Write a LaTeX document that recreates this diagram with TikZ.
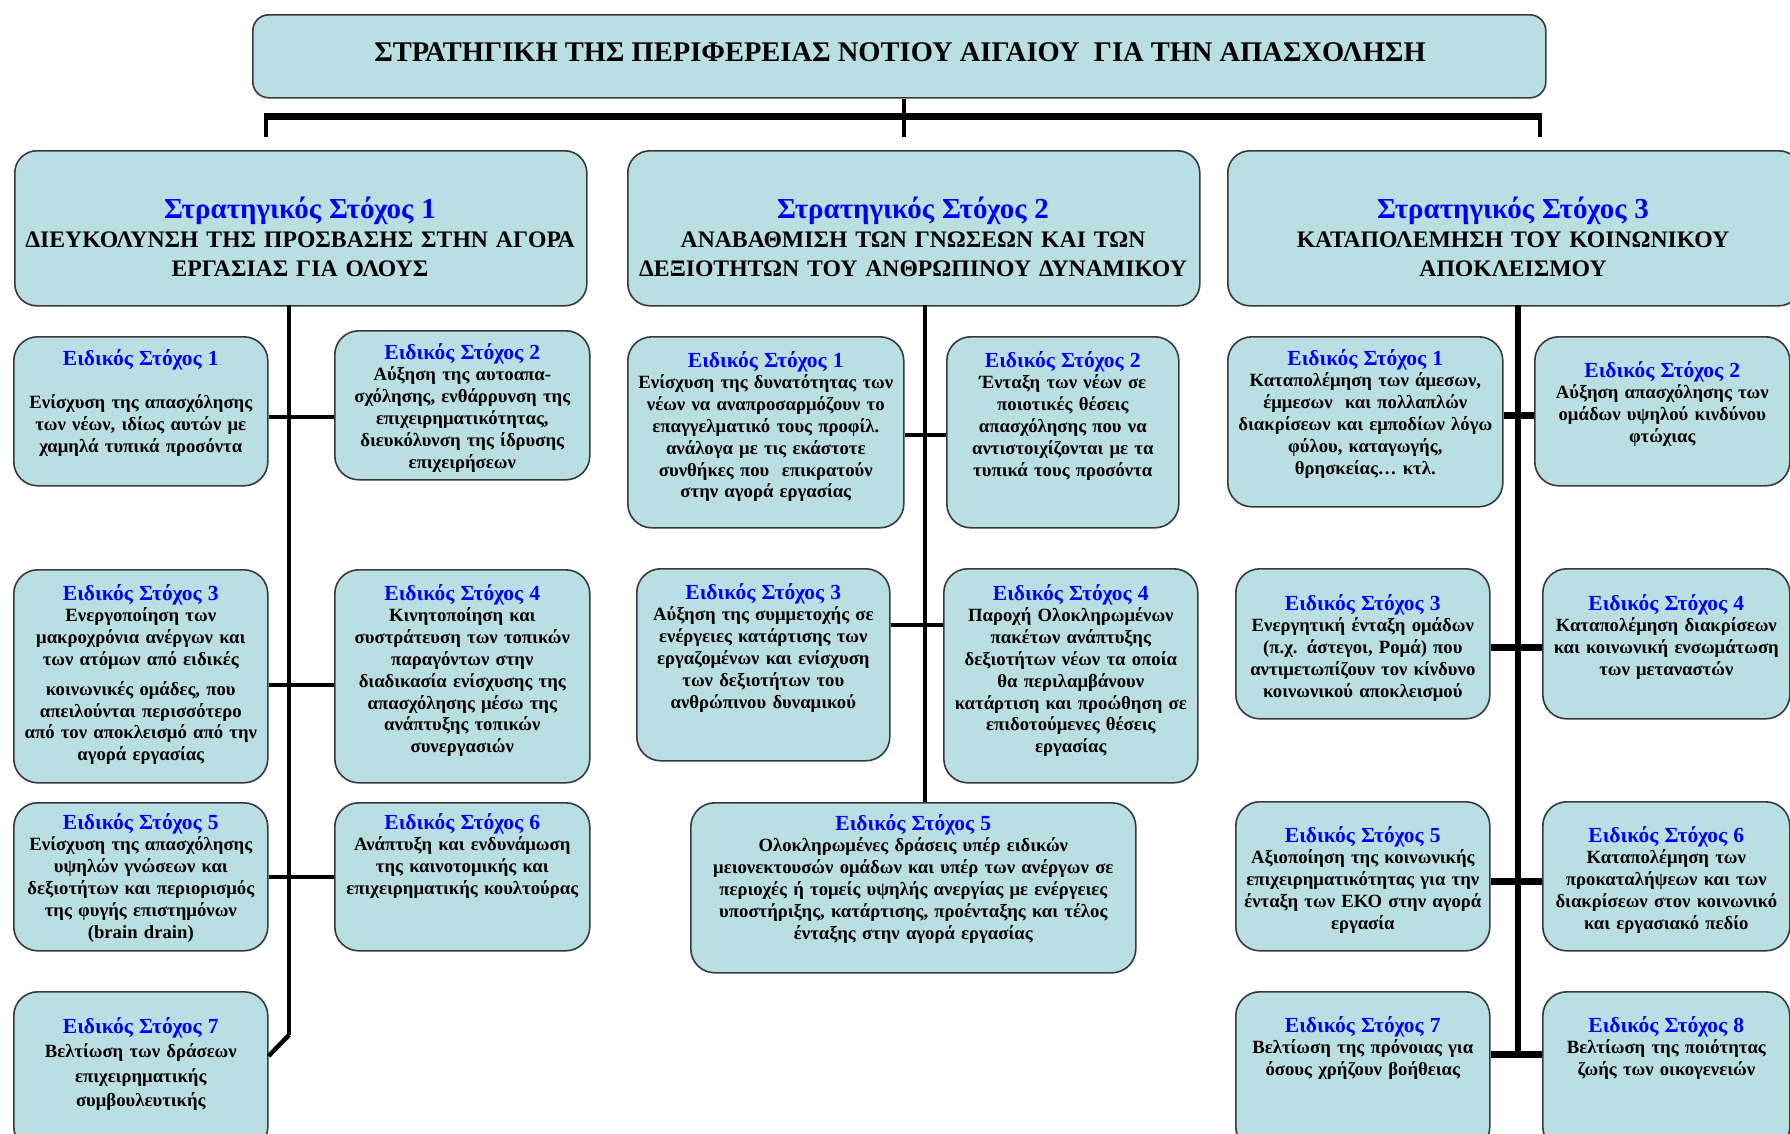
\documentclass[tikz,border=0pt]{standalone}
\usepackage{fontspec}
\setmainfont{Liberation Serif}
\definecolor{boxfill}{RGB}{185,223,227}
\definecolor{boxline}{RGB}{55,58,60}
\definecolor{headblue}{RGB}{0,0,255}
\newcommand\gbox[6][]{\node[gbx,#1,minimum width={(#5-#3)*1pt},minimum height={(#6-#4)*1pt},anchor=north west] (#2) at (#3,#4) {};}
\newcommand\eh[1]{{\color{headblue}\fontsize{21.5}{21.8}\selectfont Ειδικός Στόχος #1}}
\newcommand\sh[1]{{\color{headblue}\fontsize{29}{29}\selectfont Στρατηγικός Στόχος #1}}
\begin{document}
\begin{tikzpicture}[x=1pt,y=-1pt,
  gbx/.style={draw=boxline,line width=1.6pt,fill=boxfill,rounded corners=24pt,inner sep=0pt},
  etxt/.style={anchor=north,align=center,inner sep=0pt,text width=300pt,font=\bfseries\fontsize{18.7}{21.8}\selectfont},
  stxt/.style={anchor=north,align=center,inner sep=0pt,text width=640pt,font=\bfseries\fontsize{23.7}{29}\selectfont},
  link/.style={line width=4.5pt,draw=black},
  stub/.style={line width=7pt,draw=black}]
\useasboundingbox (0,0) rectangle (1790,1133);
% top
\gbox[rounded corners=16pt]{top}{252}{14}{1545}{97}
\node[anchor=center,inner sep=0pt,font=\bfseries\fontsize{28.5}{32}\selectfont] (toptxt) at (900,52) {ΣΤΡΑΤΗΓΙΚΗ ΤΗΣ ΠΕΡΙΦΕΡΕΙΑΣ ΝΟΤΙΟΥ ΑΙΓΑΙΟΥ\ \ ΓΙΑ ΤΗΝ ΑΠΑΣΧΟΛΗΣΗ};
% strategic
\gbox[rounded corners=22pt]{s1}{14}{150}{586}{305}
\gbox[rounded corners=22pt]{s2}{627}{150}{1199}{305}
\gbox[rounded corners=22pt]{s3}{1227}{150}{1800}{305}
\node[stxt] (s1t) at (300,197) {\sh{1}\\ ΔΙΕΥΚΟΛΥΝΣΗ ΤΗΣ ΠΡΟΣΒΑΣΗΣ ΣΤΗΝ ΑΓΟΡΑ\\ ΕΡΓΑΣΙΑΣ ΓΙΑ ΟΛΟΥΣ};
\node[stxt] (s2t) at (913,197) {\sh{2}\\ ΑΝΑΒΑΘΜΙΣΗ ΤΩΝ ΓΝΩΣΕΩΝ ΚΑΙ ΤΩΝ\\ ΔΕΞΙΟΤΗΤΩΝ ΤΟΥ ΑΝΘΡΩΠΙΝΟΥ ΔΥΝΑΜΙΚΟΥ};
\node[stxt] (s3t) at (1513,197) {\sh{3}\\ ΚΑΤΑΠΟΛΕΜΗΣΗ ΤΟΥ ΚΟΙΝΩΝΙΚΟΥ\\ ΑΠΟΚΛΕΙΣΜΟΥ};
% top connectors
\coordinate (bj) at (904,116);
\coordinate (bl) at (266,116);
\coordinate (br) at (1540,116);
\coordinate (dl) at (266,137);
\coordinate (dm) at (904,137);
\coordinate (dr) at (1540,137);
\draw[line width=4pt] (top.south -| bj) -- (bj);
\draw[line width=7pt] ([xshift=-2pt]bl) -- ([xshift=2pt]br);
\draw[line width=4pt] (bl) -- (dl);
\draw[line width=4pt] (bj) -- (dm);
\draw[line width=4pt] (br) -- (dr);
% column 1 boxes
\gbox{c1a}{13}{336}{267}{485}
\gbox{c1b}{334}{330}{589}{479}
\gbox{c1c}{13}{569}{267}{782}
\gbox{c1d}{334}{569}{589}{782}
\gbox{c1e}{13}{802}{267}{950}
\gbox{c1f}{334}{802}{589}{950}
\gbox{c1g}{13}{991}{267}{1150}
% column 2 boxes
\gbox{c2a}{627}{336}{903}{527}
\gbox{c2b}{946}{336}{1178}{527}
\gbox{c2c}{636}{568}{889}{760}
\gbox{c2d}{943}{568}{1197}{782}
\gbox{c2e}{690}{802}{1135}{972}
% column 3 boxes
\gbox{c3a}{1227}{336}{1502}{506}
\gbox{c3b}{1534}{336}{1789}{485}
\gbox{c3c}{1235}{568}{1489}{718}
\gbox{c3d}{1542}{568}{1789}{718}
\gbox{c3e}{1235}{801}{1489}{950}
\gbox{c3f}{1542}{801}{1789}{950}
\gbox{c3g}{1235}{991}{1489}{1150}
\gbox{c3h}{1542}{991}{1789}{1150}
% column 1 texts
\node[etxt] (c1at) at (c1a.north |- 0,349) {\eh{1}\\[22pt] Ενίσχυση της απασχόλησης\\ των νέων, ιδίως αυτών με\\ χαμηλά τυπικά προσόντα};
\node[etxt] (c1bt) at (c1b.north |- 0,343) {\eh{2}\\ Αύξηση της αυτοαπα-\\ σχόλησης, ενθάρρυνση της\\ επιχειρηματικότητας,\\ διευκόλυνση της ίδρυσης\\ επιχειρήσεων};
\node[etxt] (c1ct) at (c1c.north |- 0,584) {\eh{3}\\ Ενεργοποίηση των\\ μακροχρόνια ανέργων και\\ των ατόμων από ειδικές\\[8pt] κοινωνικές ομάδες, που\\ απειλούνται περισσότερο\\ από τον αποκλεισμό από την\\ αγορά εργασίας};
\node[etxt] (c1dt) at (c1d.north |- 0,584) {\eh{4}\\ Κινητοποίηση και\\ συστράτευση των τοπικών\\ παραγόντων στην\\ διαδικασία ενίσχυσης της\\ απασχόλησης μέσω της\\ ανάπτυξης τοπικών\\ συνεργασιών};
\node[etxt] (c1et) at (c1e.north |- 0,813) {\eh{5}\\ Ενίσχυση της απασχόλησης\\ υψηλών γνώσεων και\\ δεξιοτήτων και περιορισμός\\ της φυγής επιστημόνων\\ (brain drain)};
\node[etxt] (c1ft) at (c1f.north |- 0,813) {\eh{6}\\ Ανάπτυξη και ενδυνάμωση\\ της καινοτομικής και\\ επιχειρηματικής κουλτούρας};
\node[etxt,font=\bfseries\fontsize{18.7}{24.5}\selectfont] (c1gt) at (c1g.north |- 0,1017) {\eh{7}\\ Βελτίωση των δράσεων\\ επιχειρηματικής\\ συμβουλευτικής};
% column 2 texts
\node[etxt] (c2at) at (c2a.north |- 0,351) {\eh{1}\\ Ενίσχυση της δυνατότητας των\\ νέων να αναπροσαρμόζουν το\\ επαγγελματικό τους προφίλ.\\ ανάλογα με τις εκάστοτε\\ συνθήκες που\ \ επικρατούν\\ στην αγορά εργασίας};
\node[etxt] (c2bt) at (c2b.north |- 0,351) {\eh{2}\\ Ένταξη των νέων σε\\ ποιοτικές θέσεις\\ απασχόλησης που να\\ αντιστοιχίζονται με τα\\ τυπικά τους προσόντα};
\node[etxt] (c2ct) at (c2c.north |- 0,583) {\eh{3}\\ Αύξηση της συμμετοχής σε\\ ενέργειες κατάρτισης των\\ εργαζομένων και ενίσχυση\\ των δεξιοτήτων του\\ ανθρώπινου δυναμικού};
\node[etxt] (c2dt) at (c2d.north |- 0,584) {\eh{4}\\ Παροχή Ολοκληρωμένων\\ πακέτων ανάπτυξης\\ δεξιοτήτων νέων τα οποία\\ θα περιλαμβάνουν\\ κατάρτιση και προώθηση σε\\ επιδοτούμενες θέσεις\\ εργασίας};
\node[etxt,text width=460pt] (c2et) at (c2e.north |- 0,814) {\eh{5}\\ Ολοκληρωμένες δράσεις υπέρ ειδικών\\ μειονεκτουσών ομάδων και υπέρ των ανέργων σε\\ περιοχές ή τομείς υψηλής ανεργίας με ενέργειες\\ υποστήριξης, κατάρτισης, προένταξης και τέλος\\ ένταξης στην αγορά εργασίας};
% column 3 texts
\node[etxt] (c3at) at (c3a.north |- 0,349) {\eh{1}\\ Καταπολέμηση των άμεσων,\\ έμμεσων\ \ και πολλαπλών\\ διακρίσεων και εμποδίων λόγω\\ φύλου, καταγωγής,\\ θρησκείας… κτλ.};
\node[etxt] (c3bt) at (c3b.north |- 0,361) {\eh{2}\\ Αύξηση απασχόλησης των\\ ομάδων υψηλού κινδύνου\\ φτώχιας};
\node[etxt] (c3ct) at (c3c.north |- 0,594) {\eh{3}\\ Ενεργητική ένταξη ομάδων\\ (π.χ. άστεγοι, Ρομά) που\\ αντιμετωπίζουν τον κίνδυνο\\ κοινωνικού αποκλεισμού};
\node[etxt] (c3dt) at (c3d.north |- 0,594) {\eh{4}\\ Καταπολέμηση διακρίσεων\\ και κοινωνική ενσωμάτωση\\ των μεταναστών};
\node[etxt] (c3et) at (c3e.north |- 0,826) {\eh{5}\\ Αξιοποίηση της κοινωνικής\\ επιχειρηματικότητας για την\\ ένταξη των ΕΚΟ στην αγορά\\ εργασία};
\node[etxt] (c3ft) at (c3f.north |- 0,826) {\eh{6}\\ Καταπολέμηση των\\ προκαταλήψεων και των\\ διακρίσεων στον κοινωνικό\\ και εργασιακό πεδίο};
\node[etxt] (c3gt) at (c3g.north |- 0,1016) {\eh{7}\\ Βελτίωση της πρόνοιας για\\ όσους χρήζουν βοήθειας};
\node[etxt] (c3ht) at (c3h.north |- 0,1016) {\eh{8}\\ Βελτίωση της ποιότητας\\ ζωής των οικογενειών};
% column 1 connectors
\coordinate (v1) at (289,305);
\coordinate (v1end) at (289,1035);
\coordinate (j1a) at (289,417);
\coordinate (j1b) at (289,685);
\coordinate (j1c) at (289,877);
\draw[link] (v1) -- (v1end);
\draw[link] (j1a -| c1a.east) -- (j1a -| c1b.west);
\draw[link] (j1b -| c1c.east) -- (j1b -| c1d.west);
\draw[link] (j1c -| c1e.east) -- (j1c -| c1f.west);
\draw[link] (v1end) -- (c1g.east |- 0,1056);
% column 2 connectors
\coordinate (v2) at (925,305);
\coordinate (j2a) at (925,435);
\coordinate (j2b) at (925,625);
\draw[link] (v2) -- (v2 |- c2e.north);
\draw[link] (j2a -| c2a.east) -- (j2a -| c2b.west);
\draw[link] (j2b -| c2c.east) -- (j2b -| c2d.west);
% column 3 connectors
\coordinate (v3) at (1518,305);
\coordinate (v3end) at (1518,1054);
\coordinate (j3a) at (1518,415);
\coordinate (j3b) at (1518,647);
\coordinate (j3c) at (1518,881);
\draw[line width=5.5pt] (v3) -- (v3end);
\draw[stub] (j3a -| c3a.east) -- (j3a -| c3b.west);
\draw[stub] (j3b -| c3c.east) -- (j3b -| c3d.west);
\draw[stub] (j3c -| c3e.east) -- (j3c -| c3f.west);
\draw[stub] (v3end -| c3g.east) -- (v3end -| c3h.west);
\end{tikzpicture}
\end{document}
